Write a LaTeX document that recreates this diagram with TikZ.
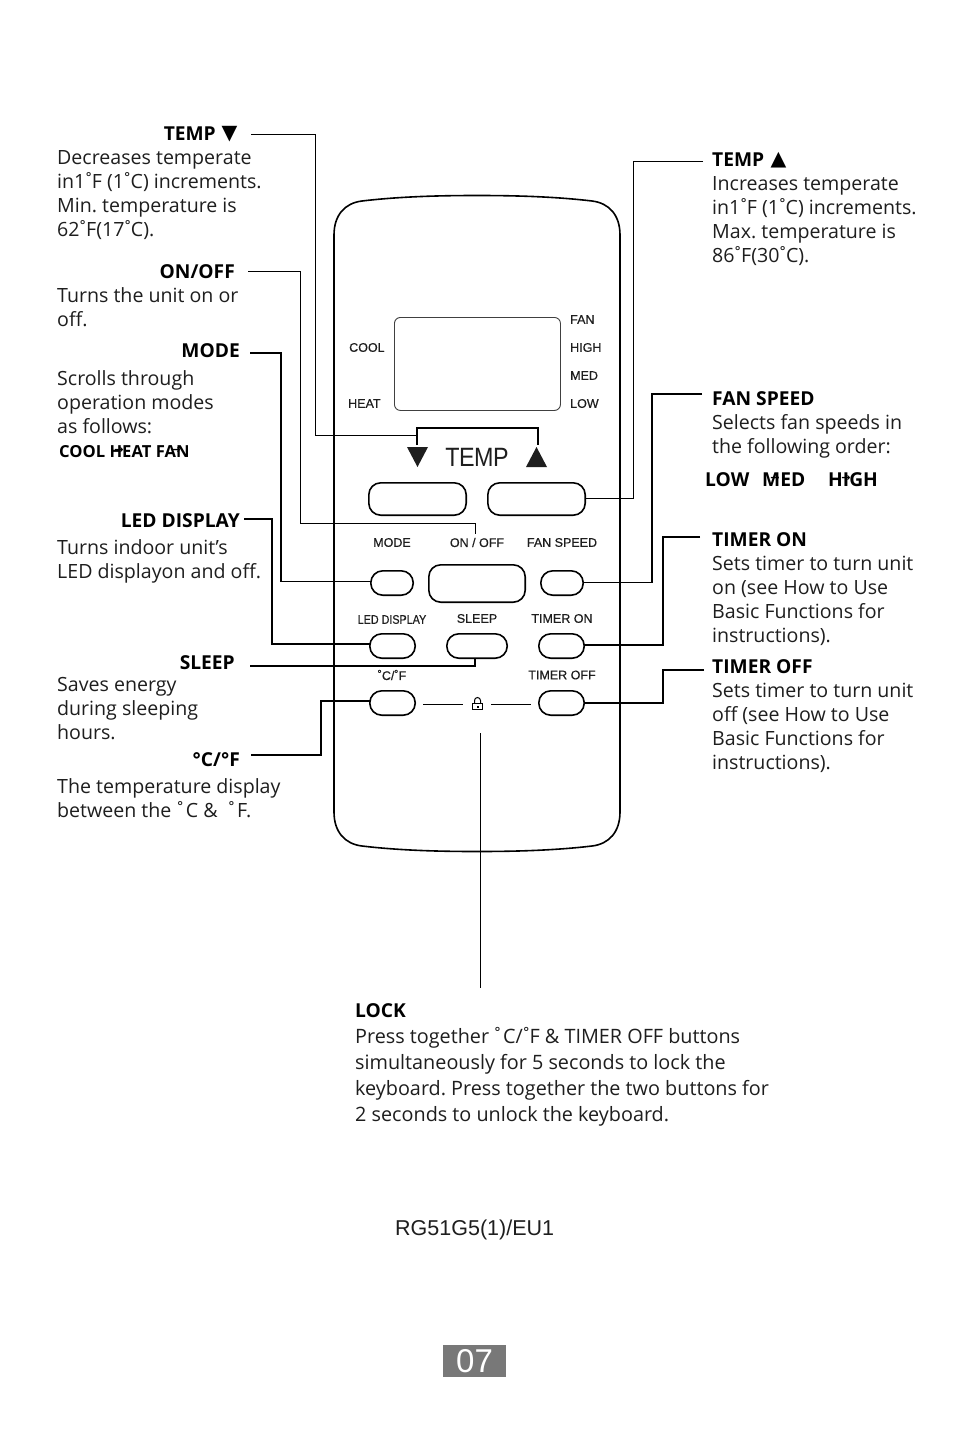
\documentclass[tikz,border=0pt]{standalone}
\usepackage{fontspec}
\setmainfont{Open Sans}
\newfontfamily\arialf{Liberation Sans}
\newfontfamily\remf[FakeBold=0.5]{Liberation Sans}
\newfontfamily\dejavuf{DejaVu Sans}
\definecolor{ink}{HTML}{1E1E1E}
\frenchspacing
\newcommand{\dg}{\kern-2.4pt˚\kern-2.4pt}
\tikzset{
  body/.style={anchor=north west,inner sep=0pt,align=left,text=ink,
    font=\fontsize{19.6}{24}\selectfont,execute at begin node={\rule{0pt}{18pt}}},
  lockbody/.style={body,font=\fontsize{19.8}{26}\selectfont},
  headr/.style={anchor=base east,inner sep=0pt,text=black,font=\fontsize{19.2}{24}\selectfont\bfseries},
  headl/.style={anchor=base west,inner sep=0pt,text=black,font=\fontsize{19.2}{24}\selectfont\bfseries},
  tiny/.style={anchor=base west,inner sep=0pt,text=black,font=\fontsize{16.6}{20}\selectfont\bfseries},
  remtext/.style={inner sep=0pt,text=ink,font=\remf\fontsize{12.5}{14}\selectfont},
  btn/.style={draw=black,line width=1.6pt,rounded corners=12pt,inner sep=0pt,outer sep=0pt,anchor=north west},
  wire/.style={draw=black,line width=1.35pt},
  thinwire/.style={draw=black,line width=0.9pt},
  shell/.style={draw=black,line width=1.6pt},
  flowarrow/.style={inner sep=0pt,text=black,font=\dejavuf\bfseries\fontsize{11}{11}\selectfont},
  markfont/.style={anchor=base west,inner sep=0pt,font=\dejavuf\fontsize{20.5}{22}\selectfont},
}
\newcommand{\btnat}[5]{\node[btn,minimum width=#4pt-#2pt-1.6pt,minimum height=#5pt-#3pt-1.6pt] (#1) at ({#2+0.8},{#3+0.8}) {};}
\begin{document}
\begin{tikzpicture}[x=1pt,y=-1pt]
\useasboundingbox (0,0) rectangle (954,1432);
\fill[white] (0,0) rectangle (954,1432);

% remote shell
\path[shell] (334,235) .. controls (334,215) and (345,203) .. (362,201)
  .. controls (400,196.5) and (440,195.5) .. (477,195.5)
  .. controls (514,195.5) and (554,196.5) .. (592,201)
  .. controls (609,203) and (620,215) .. (620,235)
  -- (620,812)
  .. controls (620,832) and (609,844) .. (592,846)
  .. controls (554,850.5) and (514,851.5) .. (477,851.5)
  .. controls (440,851.5) and (400,850.5) .. (362,846)
  .. controls (345,844) and (334,832) .. (334,812) -- cycle;

% LCD
\node[draw=black!75,line width=0.9pt,rounded corners=6pt,inner sep=0pt,anchor=north west,
  minimum width=166pt,minimum height=93pt] (lcd) at (394,317) {};

\node[remtext,anchor=west] (lcool) at (349,347.5) {COOL};
\node[remtext,anchor=west] (lheat) at (348,403.5) {HEAT};
\node[remtext,anchor=west] (lfan) at (570,319.5) {FAN};
\node[remtext,anchor=west] (lhigh) at (570,347.5) {HIGH};
\node[remtext,anchor=west] (lmed) at (570,375.5) {MED};
\node[remtext,anchor=west] (llow) at (570,403.5) {LOW};

% temp marks
\fill[ink] (407,447) -- (428,447) -- (417.5,467) -- cycle;
\fill[ink] (526,467) -- (547,467) -- (536.5,447) -- cycle;
\node[inner sep=0pt,text=ink,font=\arialf\fontsize{26.5}{28}\selectfont] (ltemp) at (477,457.5) {\scalebox{0.88}[1]{\addfontfeature{LetterSpace=-2}TEMP}};
\coordinate (bl) at (417,445);
\coordinate (br) at (538,445);
\draw[wire] (bl) -- (417,428) -- (538,428) -- (br);

% buttons
\btnat{bdown}{368}{482}{467}{516}
\btnat{bup}{487}{482}{586}{516}
\btnat{bmode}{370}{570}{414}{596}
\btnat{bonoff}{428}{564}{526}{603}
\btnat{bfan}{540}{570}{584}{596}
\btnat{bled}{369}{633}{416}{659}
\btnat{bsleep}{446}{633}{508}{659}
\btnat{bton}{538}{633}{585}{659}
\btnat{bcf}{369}{690}{416}{716}
\btnat{btoff}{538}{690}{585}{716}

% button labels
\node[remtext] (tmode) at (392,542.5) {MODE};
\node[remtext] (tonoff) at (477,542.5) {ON / OFF};
\node[remtext] (tfan) at (562,542.5) {FAN SPEED};
\node[remtext] (tled) at (392,619.5) {\scalebox{0.86}[1]{LED DISPLAY}};
\node[remtext] (tsleep) at (477,618.5) {SLEEP};
\node[remtext] (tton) at (562,618.5) {TIMER ON};
\node[remtext] (tcf) at (392,675) {˚C/˚F};
\node[remtext] (ttoff) at (562,675) {TIMER OFF};

% lock
\coordinate (lk) at (477,704);
\coordinate (la) at (423,704);
\coordinate (lb) at (463,704);
\coordinate (lc) at (491,704);
\coordinate (ld) at (531,704);
\draw[thinwire] (la) -- (lb);
\draw[thinwire] (lc) -- (ld);
\draw[black,line width=1pt] (472.5,703.5) rectangle (482.5,709.5);
\draw[black,line width=1pt] (474.5,703.5) -- (474.5,700.5) arc[start angle=180,end angle=360,radius=3] -- (480.5,703.5);
\fill[black] (476.5,705.5) rectangle (478.5,707.5);

% left texts
\node[headr] (h1) at (216,140) {TEMP};
\node[markfont] (h1t) at (221.5,139) {▼};
\node[body] (b1) at (57,150) {Decreases temperate\\in1\dg F (1\dg C) increments.\\Min. temperature is\\62\dg F(17\dg C).};
\node[headr] (h2) at (235,278) {ON/OFF};
\node[body] (b2) at (57,287) {Turns the unit on or\\off.};
\node[headr] (h3) at (240,357) {MODE};
\node[body] (b3) at (57,370) {Scrolls through\\operation modes\\as follows:};
\node[tiny] (flow) at (59,457) {COOL HEAT FAN};
\node[flowarrow] (fa1) at (119,451) {→};
\node[flowarrow] (fa2) at (176,451) {→};
\node[headr] (h4) at (240,527) {LED DISPLAY};
\node[body] (b4) at (57,539) {Turns indoor unit’s\\LED displayon and off.};
\node[headr] (h5) at (235,669) {SLEEP};
\node[body] (b5) at (57,677) {Saves energy\\during sleeping\\hours.};
\node[headr] (h6) at (240,766) {°C/°F};
\node[body] (b6) at (57,778) {The temperature display\\between the \kern-2pt˚C \&\ \ \kern-2pt˚F.};

% right texts
\node[headl] (h7) at (712,166) {TEMP};
\node[markfont] (h7t) at (770.5,165) {▲};
\node[body] (b7) at (712,176) {Increases temperate\\in1\dg F (1\dg C) increments.\\Max. temperature is\\86\dg F(30\dg C).};
\node[headl] (h8) at (712,405) {FAN SPEED};
\node[body] (b8) at (712,414) {Selects fan speeds in\\the following order:};
\node[headl] (s1) at (705,486) {LOW};
\node[headl] (s2) at (762,486) {MED};
\node[headl] (s3) at (828,486) {HIGH};
\node[flowarrow] (fa3) at (775,479) {→};
\node[flowarrow] (fa4) at (846,479) {→};
\node[headl] (h9) at (712,546) {TIMER ON};
\node[body] (b9) at (712,556) {Sets timer to turn unit\\on (see How to Use\\Basic Functions for\\instructions).};
\node[headl] (h10) at (712,673) {TIMER OFF};
\node[body] (b10) at (712,683) {Sets timer to turn unit\\off (see How to Use\\Basic Functions for\\instructions).};

% lock text
\node[headl] (h11) at (355,1017) {LOCK};
\node[lockbody] (b11) at (355,1027) {Press together \kern-2.5pt˚C/\dg F \& TIMER OFF buttons\\simultaneously for 5 seconds to lock the\\keyboard. Press together the two buttons for\\2 seconds to unlock the keyboard.};

% model, page number
\node[anchor=base west,inner sep=0pt,text=ink,font=\arialf\fontsize{21.5}{24}\selectfont] (model) at (395,1235) {RG51G5(1)/EU1};
\node[fill=black!53,inner sep=0pt,minimum width=63pt,minimum height=32pt,text=white,
  font=\arialf\fontsize{33}{34}\selectfont] (page) at (474.5,1361) {07};

% connector free ends
\coordinate (c1) at (251,134);
\coordinate (c2) at (248,271);
\coordinate (c3) at (250,353);
\coordinate (c4) at (244,519);
\coordinate (c5) at (250,666);
\coordinate (c6) at (251,755);
\coordinate (c7) at (703,161);
\coordinate (c8) at (702,394);
\coordinate (c9) at (700,537);
\coordinate (c10) at (704,670);
\coordinate (l1) at (480,733);
\coordinate (l2) at (480,988);

% connectors
\draw[thinwire] (c1) -- (315,134) -- (315,435) -- (bl|-0,435);
\draw[wire] (bl|-0,435) -- (bl);
\draw[thinwire] (c2) -- (300,271) -- (300,523) -- (475,523) -- (475,534);
\draw[wire] (c3) -- (281,353) -- (281,581.5) -- (bmode.west|-0,581.5);
\draw[wire] (c4) -- (272,519) -- (272,644) -- (bled.west|-0,644);
\draw[wire] (c5) -- (475,666) -- (475,659);
\draw[wire] (c6) -- (321,755) -- (321,701) -- (bcf.west|-0,701);
\draw[thinwire] (c7) -- (633,161) -- (633,498) -- (bup.east|-0,498);
\draw[wire] (c8) -- (652,394) -- (652,582.5) -- (bfan.east|-0,582.5);
\draw[wire] (c9) -- (663,537) -- (663,645) -- (bton.east|-0,645);
\draw[wire] (c10) -- (663,670) -- (663,703) -- (btoff.east|-0,703);
\draw[thinwire] (l1) -- (l2);
\end{tikzpicture}
\end{document}
